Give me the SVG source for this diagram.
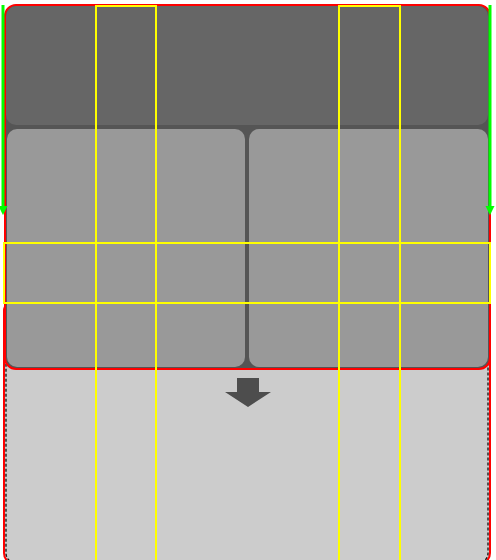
<svg xmlns="http://www.w3.org/2000/svg" width="496" height="560" viewBox="0 0 496 560">
<style>
.yl{fill:none;stroke:#ffff00;stroke-width:2}
.gr{stroke:#00ff00;stroke-width:3;fill:none}
</style>
<defs>
<marker id="ga" viewBox="0 0 10 10" refX="1" refY="5" markerWidth="3" markerHeight="3.3" orient="auto" markerUnits="strokeWidth">
<path d="M0,0 L10,5 L0,10 z" fill="#00ff00"/>
</marker>
</defs>
<rect width="496" height="560" fill="#ffffff"/>
<g id="bottom-region">
<rect x="4" y="300" width="486" height="264" rx="11" fill="#cccccc" stroke="#ff0000" stroke-width="2"/>
<rect x="6" y="300" width="482" height="263" rx="10" fill="none" stroke="#111" stroke-width="1.3" stroke-dasharray="3,2"/>
</g>
<g id="container">
<rect x="5" y="5" width="485" height="364" rx="11" fill="#555555" stroke="#ff0000" stroke-width="2"/>
</g>
<g id="top-band">
<rect x="6" y="6" width="482" height="119" rx="10" fill="#666666"/>
</g>
<g id="panel-left">
<rect x="7" y="129" width="238" height="238" rx="10" fill="#999999"/>
</g>
<g id="panel-right">
<rect x="249" y="129" width="239" height="238" rx="10" fill="#999999"/>
</g>
<g id="down-arrow">
<path d="M237,378 H259 V392 H271 L248,407 L225,392 H237 Z" fill="#4d4d4d"/>
</g>
<g id="guides">
<rect class="yl" x="96" y="6" width="60" height="560"/>
<rect class="yl" x="339" y="6" width="61" height="560"/>
<rect class="yl" x="4" y="243" width="486" height="60"/>
</g>
<g id="connectors">
<line class="gr" x1="3" y1="5" x2="3" y2="207" marker-end="url(#ga)"/>
<line class="gr" x1="490" y1="5" x2="490" y2="207" marker-end="url(#ga)"/>
</g>
</svg>
